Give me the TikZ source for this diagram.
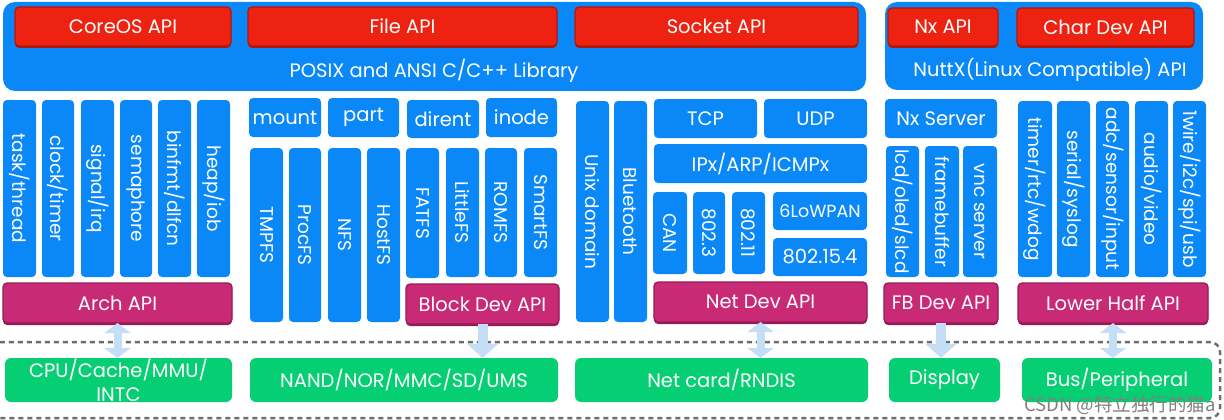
\documentclass[tikz,border=0pt]{standalone}
\usepackage{fontspec}
\setmainfont{Poppins}
\newfontfamily\cjk{Noto Sans CJK SC}
\usetikzlibrary{arrows.meta,shadows}
\definecolor{nblue}{HTML}{0A88F8}
\definecolor{nred}{HTML}{EE2211}
\definecolor{nreddk}{HTML}{B0170F}
\definecolor{nmag}{HTML}{C92A75}
\definecolor{nmagdk}{HTML}{951B55}
\definecolor{ngreen}{HTML}{05CF72}
\definecolor{narrow}{HTML}{C4DEF8}
\definecolor{ndash}{HTML}{6E6E6E}
\tikzset{
  base/.style={inner sep=0pt, outer sep=0pt, text=white, font=\fontsize{19.5}{24}\selectfont},
  bluebox/.style={base, fill=nblue, rounded corners=4pt},
  vbox/.style={bluebox, font=\fontsize{18.5}{22}\selectfont},
  bigbox/.style={base, fill=nblue, rounded corners=12pt},
  apibox/.style={base, fill=nred, draw=nreddk, line width=1.2pt, rounded corners=4pt,
    general shadow={fill=nreddk, shadow yshift=-2pt}},
  drvbox/.style={base, fill=nmag, draw=nmagdk, line width=1.2pt, rounded corners=4pt,
    general shadow={fill=nmagdk, shadow yshift=-2pt}},
  hwbox/.style={base, fill=ngreen, rounded corners=6pt, align=center},
  biarrow/.style={draw=narrow, line width=8pt,
    {Triangle[width=26pt,length=10pt]}-{Triangle[width=26pt,length=10pt]}},
  downarrow/.style={draw=narrow, line width=10pt, -{Triangle[width=30pt,length=14pt]}},
  hwframe/.style={draw=ndash, line width=2.5pt, dash pattern=on 5pt off 4pt, rounded corners=10pt},
}
\newcommand\bx[7]{\node[#2, minimum width={(#5-#3)*1pt}, minimum height={(#6-#4)*1pt}] (#1) at ({(#3+#5)/2},{(#4+#6)/2}) {#7};}
\newcommand\vb[7]{\node[#2, rotate=-90, minimum width={(#6-#4)*1pt}, minimum height={(#5-#3)*1pt}] (#1) at ({(#3+#5)/2},{(#4+#6)/2}) {#7};}
\begin{document}
\begin{tikzpicture}[x=1pt,y=-1pt]
\useasboundingbox (0,0) rectangle (1224,420);
% top API layer
\bx{posix}{bigbox}{3}{2}{866}{91}{}
\bx{coreos}{apibox}{15}{7}{231}{46}{CoreOS API}
\bx{fileapi}{apibox}{248}{7}{557}{46}{File API}
\bx{sockapi}{apibox}{575}{7}{858}{46}{Socket API}
\node[base] (posixlbl) at (434,71) {POSIX and ANSI C/C++ Library};
\bx{nuttx}{bigbox}{885}{2}{1203}{90}{}
\bx{nxapi}{apibox}{888}{8}{998}{46}{Nx API}
\bx{chardev}{apibox}{1017}{8}{1194}{46}{Char Dev API}
\node[base] (nuttxlbl) at (1050,70) {NuttX(Linux Compatible) API};
% core
\vb{task}{vbox}{3}{100}{36}{277}{task/thread}
\vb{clock}{vbox}{42}{100}{74}{277}{clock/timer}
\vb{signal}{vbox}{81}{100}{114}{277}{signal/irq}
\vb{sem}{vbox}{120}{100}{152}{277}{semaphore}
\vb{binfmt}{vbox}{158}{100}{191}{277}{binfmt/dlfcn}
\vb{heap}{vbox}{197}{100}{230}{277}{heap/iob}
\bx{arch}{drvbox}{3}{283}{232}{323}{Arch API}
% file systems
\bx{mount}{bluebox}{249}{98}{321}{137}{mount}
\bx{part}{bluebox}{328}{98}{399}{137}{part}
\bx{dirent}{bluebox}{407}{100}{479}{138}{dirent}
\bx{inode}{bluebox}{486}{98}{557}{137}{inode}
\vb{tmpfs}{vbox}{250}{148}{283}{322}{TMPFS}
\vb{procfs}{vbox}{289}{148}{321}{322}{ProcFS}
\vb{nfs}{vbox}{328}{148}{361}{322}{NFS}
\vb{hostfs}{vbox}{367}{148}{400}{322}{HostFS}
\vb{fatfs}{vbox}{406}{148}{439}{278}{FATFS}
\vb{littlefs}{vbox}{446}{148}{479}{277}{LittleFS}
\vb{romfs}{vbox}{485}{148}{517}{277}{ROMFS}
\vb{smartfs}{vbox}{524}{148}{557}{277}{SmartFS}
\bx{blockdev}{drvbox}{406}{284}{559}{324}{Block Dev API}
% network
\vb{unix}{vbox}{576}{101}{609}{322}{Unix domain}
\vb{bt}{vbox}{614}{101}{647}{322}{Bluetooth}
\bx{tcp}{bluebox}{654}{99}{757}{138}{TCP}
\bx{udp}{bluebox}{764}{99}{867}{138}{UDP}
\bx{ipx}{bluebox}{654}{144}{867}{183}{IPx/ARP/ICMPx}
\vb{can}{vbox}{653}{192}{687}{274}{CAN}
\vb{eth}{vbox}{693}{192}{725}{274}{802.3}
\vb{wifi}{vbox}{732}{192}{765}{274}{802.11}
\bx{lowpan}{bluebox, font=\fontsize{17.5}{22}\selectfont}{773}{192}{867}{230}{6LoWPAN}
\bx{ieee}{bluebox}{773}{238}{867}{276}{802.15.4}
\bx{netdev}{drvbox}{654}{282}{867}{322}{Net Dev API}
% graphics
\bx{nxserver}{bluebox}{885}{99}{997}{138}{Nx Server}
\vb{lcd}{vbox}{886}{146}{919}{277}{lcd/oled/slcd}
\vb{fb}{vbox}{925}{146}{959}{277}{framebuffer}
\vb{vnc}{vbox}{963}{146}{997}{277}{vnc server}
\bx{fbdev}{drvbox}{884}{283}{998}{323}{FB Dev API}
% drivers
\vb{timer}{vbox}{1018}{101}{1052}{277}{timer/rtc/wdog}
\vb{serial}{vbox}{1057}{101}{1090}{277}{serial/syslog}
\vb{adc}{vbox}{1096}{101}{1129}{277}{adc/sensor/input}
\vb{audio}{vbox}{1135}{101}{1168}{277}{audio/video}
\vb{onewire}{vbox}{1173}{101}{1206}{277}{1wire/i2c/spi/usb}
\bx{lowerhalf}{drvbox}{1018}{283}{1208}{323}{Lower Half API}
% hardware
\draw[hwframe] (-10,342) rectangle (1220,418);
\bx{cpu}{hwbox}{5}{358}{232}{402}{CPU/Cache/MMU/\\INTC}
\bx{nand}{hwbox}{250}{358}{558}{402}{NAND/NOR/MMC/SD/UMS}
\bx{netcard}{hwbox}{575}{358}{868}{402}{Net card/RNDIS}
\bx{display}{hwbox}{889}{358}{1000}{402}{Display}
\bx{bus}{hwbox}{1022}{358}{1212}{402}{\raisebox{5pt}{Bus/Peripheral}}
% connectors
\draw[biarrow] (arch.south) -- (arch.south |- cpu.north);
\draw[downarrow] (blockdev.south) -- (blockdev.south |- nand.north);
\draw[biarrow] (netdev.south) -- (netdev.south |- netcard.north);
\draw[downarrow] (fbdev.south) -- (fbdev.south |- display.north);
\draw[biarrow] (lowerhalf.south) -- (lowerhalf.south |- bus.north);
\node[anchor=east, inner sep=0pt, text=gray, font=\cjk\fontsize{18.5}{20}\selectfont] (wm) at (1216,405) {CSDN @特立独行的猫a};
\end{tikzpicture}
\end{document}
